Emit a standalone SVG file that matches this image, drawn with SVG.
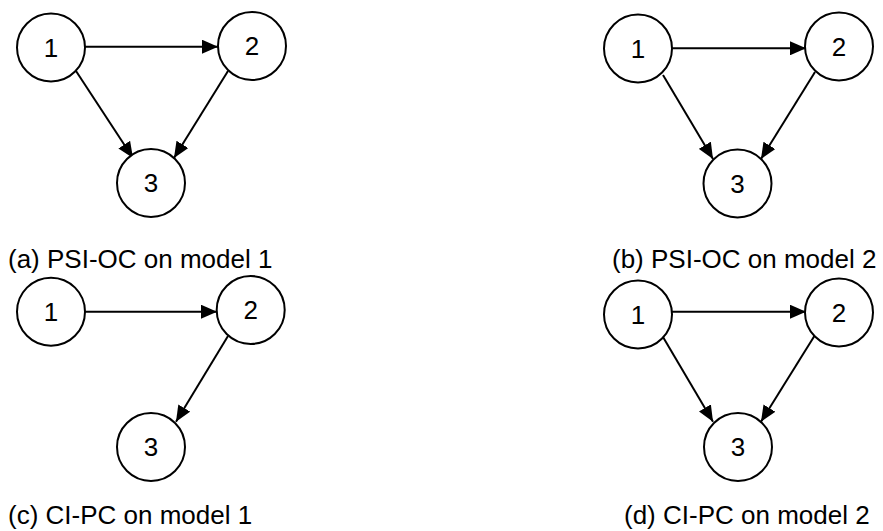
<svg xmlns="http://www.w3.org/2000/svg" width="883" height="531" viewBox="0 0 883 531">
<style>
.n{fill:#fff;stroke:#000;stroke-width:2}
.t{font-family:"Liberation Sans",Arial,sans-serif;font-size:26px;fill:#000;text-anchor:middle;dominant-baseline:central}
.c{font-family:"Liberation Sans",Arial,sans-serif;font-size:26px;fill:#000}
.e{stroke:#000;stroke-width:2;fill:none;marker-end:url(#ah)}
</style>
<defs>
<marker id="ah" markerWidth="8" markerHeight="7" refX="8" refY="3.5" orient="auto" markerUnits="strokeWidth">
<path d="M0,0 L8,3.5 L0,7 Z" fill="#000"/>
</marker>
</defs>
<rect width="883" height="531" fill="#fff"/>
<g id="connectors">
<line class="e" x1="85" y1="46.7" x2="218" y2="46.7"/>
<line class="e" x1="76" y1="71" x2="133" y2="158"/>
<line class="e" x1="228" y1="71" x2="174" y2="158"/>
<line class="e" x1="671" y1="48.3" x2="806" y2="48.3"/>
<line class="e" x1="663" y1="75" x2="713" y2="159"/>
<line class="e" x1="815" y1="72" x2="761" y2="159"/>
<line class="e" x1="85" y1="311.7" x2="217" y2="311.7"/>
<line class="e" x1="228" y1="336" x2="176" y2="421.7"/>
<line class="e" x1="671" y1="311.7" x2="806" y2="311.7"/>
<line class="e" x1="663" y1="337" x2="713" y2="421.7"/>
<line class="e" x1="815" y1="335" x2="761" y2="421.7"/>
</g>
<g id="a1"><circle class="n" cx="51" cy="47.5" r="34"/><text class="t" x="51" y="47.5">1</text></g>
<g id="a2"><circle class="n" cx="252" cy="46" r="34"/><text class="t" x="252" y="46">2</text></g>
<g id="a3"><circle class="n" cx="151" cy="183" r="34"/><text class="t" x="151" y="183">3</text></g>
<g id="b1"><circle class="n" cx="638" cy="48.5" r="34"/><text class="t" x="638" y="48.5">1</text></g>
<g id="b2"><circle class="n" cx="839" cy="46.5" r="34"/><text class="t" x="839" y="46.5">2</text></g>
<g id="b3"><circle class="n" cx="737.5" cy="183.5" r="34"/><text class="t" x="737.5" y="183.5">3</text></g>
<g id="c1"><circle class="n" cx="51" cy="311.7" r="34"/><text class="t" x="51" y="311.7">1</text></g>
<g id="c2"><circle class="n" cx="250.7" cy="310" r="34"/><text class="t" x="250.7" y="310">2</text></g>
<g id="c3"><circle class="n" cx="151" cy="447" r="34"/><text class="t" x="151" y="447">3</text></g>
<g id="d1"><circle class="n" cx="638" cy="314.5" r="34"/><text class="t" x="638" y="314.5">1</text></g>
<g id="d2"><circle class="n" cx="839" cy="312.5" r="34"/><text class="t" x="839" y="312.5">2</text></g>
<g id="d3"><circle class="n" cx="738" cy="447" r="34"/><text class="t" x="738" y="447">3</text></g>
<text class="c" x="8" y="268">(a) PSI-OC on model 1</text>
<text class="c" x="612" y="268">(b) PSI-OC on model 2</text>
<text class="c" x="8" y="524">(c) CI-PC on model 1</text>
<text class="c" x="624" y="524">(d) CI-PC on model 2</text>
</svg>
